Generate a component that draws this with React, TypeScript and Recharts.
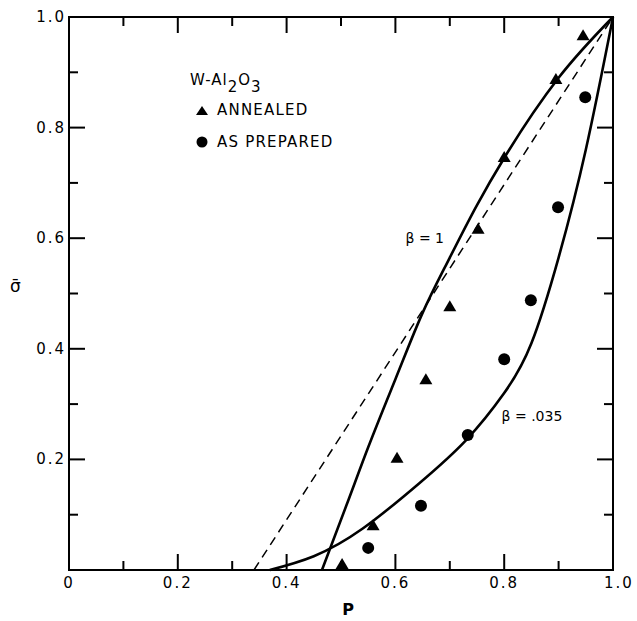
import React from 'react';
import { ComposedChart, Line, Scatter, XAxis, YAxis, ReferenceArea, ReferenceDot } from 'recharts';

// annealed samples (triangles)
const annealedP = [0.502, 0.559, 0.603, 0.656, 0.7, 0.752, 0.8, 0.895, 0.945];
const annealedS = [0.011, 0.081, 0.203, 0.345, 0.477, 0.617, 0.747, 0.888, 0.967];

// as prepared samples (circles)
const preparedP = [0.55, 0.647, 0.733, 0.8, 0.849, 0.899, 0.949];
const preparedS = [0.04, 0.116, 0.244, 0.381, 0.488, 0.656, 0.855];

// theory curves
const beta1P = [0.465, 0.51, 0.55, 0.6, 0.65, 0.7, 0.75, 0.8, 0.9, 1.0];
const beta1S = [0, 0.117, 0.222, 0.345, 0.465, 0.565, 0.66, 0.745, 0.89, 1.0];
const beta035P = [0.369, 0.45, 0.54, 0.644, 0.73, 0.8, 0.85, 0.9, 0.95, 1.0];
const beta035S = [0, 0.025, 0.075, 0.157, 0.235, 0.32, 0.41, 0.565, 0.76, 1.0];
const linearP = [0.34, 1.0];
const linearS = [0, 1.0];

const ticks = [0, 0.1, 0.2, 0.3, 0.4, 0.5, 0.6, 0.7, 0.8, 0.9, 1.0];
const xLabels = ['0', '', '0.2', '', '0.4', '', '0.6', '', '0.8', '', '1.0'];
const yLabels = ['', '', '0.2', '', '0.4', '', '0.6', '', '0.8', '', '1.0'];

const W = 637;
const H = 621;
const LEFT = 69;
const RIGHT = 613;
const TOP = 17;
const BOTTOM = 570;
const FONT = 'DejaVu Sans';

const pts = (xs: number[], ys: number[]) => xs.map((x, i) => ({ x, y: ys[i] }));

const labelIndex = (v: number) => Math.round(v * 10);

function XTick(props: any) {
  const { x, payload } = props;
  const i = labelIndex(payload.value);
  const len = i % 2 === 0 ? 16 : 9;
  return (
    <g>
      <line x1={x} x2={x} y1={BOTTOM} y2={BOTTOM - len} stroke="#000" strokeWidth={2} />
      <line x1={x} x2={x} y1={TOP} y2={TOP + len} stroke="#000" strokeWidth={2} />
      {xLabels[i] && (
        <text x={x + (i === 10 ? 6 : 0)} y={BOTTOM + 18} textAnchor="middle" fontSize={15} letterSpacing={2} fontFamily={FONT} fill="#000">
          {xLabels[i]}
        </text>
      )}
    </g>
  );
}

function YTick(props: any) {
  const { y, payload } = props;
  const i = labelIndex(payload.value);
  const len = i % 2 === 0 ? 16 : 9;
  return (
    <g>
      <line x1={LEFT} x2={LEFT + len} y1={y} y2={y} stroke="#000" strokeWidth={2} />
      <line x1={RIGHT} x2={RIGHT - len} y1={y} y2={y} stroke="#000" strokeWidth={2} />
      {yLabels[i] && (
        <text x={LEFT - 3} y={y + 5} textAnchor="end" fontSize={15} letterSpacing={2} fontFamily={FONT} fill="#000">
          {yLabels[i]}
        </text>
      )}
    </g>
  );
}

const Triangle = (props: any) => {
  const { cx, cy } = props;
  return <path d={`M${cx},${cy - 6} L${cx + 6.5},${cy + 5} L${cx - 6.5},${cy + 5} Z`} fill="#000" />;
};

const Dot = (props: any) => {
  const { cx, cy } = props;
  return <circle cx={cx} cy={cy} r={6} fill="#000" />;
};

function LegendBox() {
  return (
    <svg width={200} height={100} style={{ position: 'absolute', left: 180, top: 60 }}>
      <text x={10} y={25} fontSize={15} fontFamily={FONT} letterSpacing={1} fill="#000">
        W-Al
        <tspan dy={7}>2</tspan>
        <tspan dy={-7}>O</tspan>
        <tspan dy={7}>3</tspan>
      </text>
      <path d="M22,46 L28,55 L16,55 Z" fill="#000" />
      <text x={37} y={55} fontSize={15} fontFamily={FONT} letterSpacing={1.2} fill="#000">ANNEALED</text>
      <circle cx={22} cy={82} r={5.5} fill="#000" />
      <text x={37} y={87} fontSize={15} fontFamily={FONT} letterSpacing={1.2} fill="#000">AS PREPARED</text>
    </svg>
  );
}

export default function App() {
  return (
    <div style={{ position: 'absolute', left: 0, top: 0, width: W, height: H, background: '#fff' }}>
      <ComposedChart width={W} height={H} margin={{ top: TOP, right: W - RIGHT, bottom: 0, left: 0 }}>
        <XAxis
          type="number"
          dataKey="x"
          domain={[0, 1]}
          ticks={ticks}
          interval={0}
          axisLine={false}
          tickLine={false}
          tick={(p: any) => <XTick {...p} />}
          height={H - BOTTOM}
          label={{ value: 'P', position: 'insideBottom', offset: 6, dx: 7, fontSize: 16, fontWeight: 'bold', fontFamily: FONT, fill: '#000' }}
        />
        <YAxis
          type="number"
          dataKey="y"
          domain={[0, 1]}
          ticks={ticks}
          interval={0}
          axisLine={false}
          tickLine={false}
          tick={(p: any) => <YTick {...p} />}
          width={LEFT}
          label={{ value: 'σ\u0304', position: 'insideLeft', offset: 10, dy: -8, fontSize: 17, fontFamily: FONT, fill: '#000' }}
        />
        <ReferenceArea x1={0} x2={1} y1={0} y2={1} fill="none" stroke="#000" strokeWidth={2} />
        <Line data={pts(linearP, linearS)} dataKey="y" type="linear" stroke="#000" strokeWidth={1.5} strokeDasharray="9 6" dot={false} activeDot={false} isAnimationActive={false} />
        <Line data={pts(beta1P, beta1S)} dataKey="y" type="monotone" stroke="#000" strokeWidth={2.6} dot={false} activeDot={false} isAnimationActive={false} />
        <Line data={pts(beta035P, beta035S)} dataKey="y" type="natural" stroke="#000" strokeWidth={2.6} dot={false} activeDot={false} isAnimationActive={false} />
        <Scatter data={pts(annealedP, annealedS)} dataKey="y" shape={Triangle} isAnimationActive={false} />
        <Scatter data={pts(preparedP, preparedS)} dataKey="y" shape={Dot} isAnimationActive={false} />
        <ReferenceDot x={0.654} y={0.6} r={0} fill="none" stroke="none" label={{ value: 'β = 1', position: 'center', fontSize: 14, fontFamily: FONT, fill: '#000' }} />
        <ReferenceDot x={0.851} y={0.278} r={0} fill="none" stroke="none" label={{ value: 'β = .035', position: 'center', fontSize: 14, fontFamily: FONT, fill: '#000' }} />
      </ComposedChart>
      <LegendBox />
    </div>
  );
}
